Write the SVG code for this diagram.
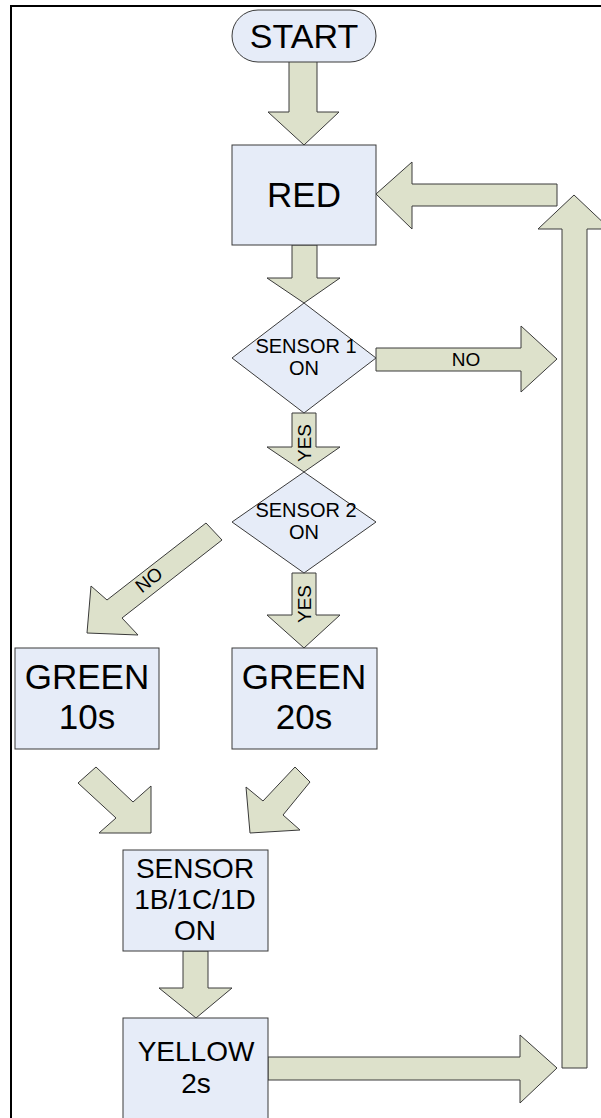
<svg xmlns="http://www.w3.org/2000/svg" width="601" height="1118" viewBox="0 0 601 1118">
<style>
.node{fill:#E6ECF8;stroke:#3a3a3a;stroke-width:1}
.arrow{fill:#DDE1CB;stroke:#3a3a3a;stroke-width:1;stroke-linejoin:miter}
text{font-family:"Liberation Sans",Arial,sans-serif;fill:#000;text-anchor:middle}
.big{font-size:35px}
.mid{font-size:28px}
.sm{font-size:20px}
.lbl{font-size:19px}
</style>
<rect x="0" y="0" width="601" height="1118" fill="#fff"/>
<path d="M11,1118 V6 H601" fill="none" stroke="#000" stroke-width="2"/>
<g id="connectors">
<polygon class="arrow" points="289,61 317,61 317,112 339,112 304,145 268,112 289,112"/>
<polygon class="arrow" points="557,184 557,206 412,206 412,229 376,194 412,162 412,184"/>
<polygon class="arrow" points="292,245 317,245 317,278 340,278 304,303 267,278 292,278"/>
<polygon class="arrow" points="376,348 521,348 521,326 557,359 521,392 521,371 376,371"/>
<text class="lbl" x="466" y="366">NO</text>
<polygon class="arrow" points="292,413 316,413 316,447 340,447 304,472 267,447 292,447"/>
<text class="lbl" transform="translate(311,443) rotate(-90)">YES</text>
<polygon class="arrow" points="292,573 316,573 316,615 340,615 304,648 267,615 292,615"/>
<text class="lbl" transform="translate(311,604) rotate(-90)">YES</text>
<polygon class="arrow" points="206,523 222,540 122,618 138,635 87,633 91,586 107,600"/>
<text class="lbl" transform="translate(153,585) rotate(-38)">NO</text>
<polygon class="arrow" points="96,767 133,802 151,786 151,833 99,833 116,818 78,783"/>
<polygon class="arrow" points="295,767 310,782 283,815 300,830 250,833 246,787 263,801"/>
<polygon class="arrow" points="183,951 208,951 208,988 232,988 196,1018 159,988 183,988"/>
<polygon class="arrow" points="268,1057 520,1057 520,1035 557,1068 520,1103 520,1080 268,1080"/>
<polygon class="arrow" points="562,1068 587,1068 587,229 610,229 574,195 538,229 562,229"/>
</g>
<g id="start">
<rect class="node" x="232" y="10" width="144" height="52" rx="26" ry="26"/>
<text x="304" y="48" font-size="34">START</text>
</g>
<g id="red">
<rect class="node" x="232" y="145" width="144" height="100"/>
<text class="big" x="304" y="207">RED</text>
</g>
<g id="sensor1">
<polygon class="node" points="304,303 376,358 304,413 232,358"/>
<text class="sm" x="306" y="353">SENSOR 1</text>
<text class="sm" x="304" y="375">ON</text>
</g>
<g id="sensor2">
<polygon class="node" points="304,472 376,522 304,573 232,522"/>
<text class="sm" x="306" y="517">SENSOR 2</text>
<text class="sm" x="304" y="539">ON</text>
</g>
<g id="green10">
<rect class="node" x="15" y="648" width="144" height="101"/>
<text class="big" x="87" y="689">GREEN</text>
<text class="big" x="87" y="729">10s</text>
</g>
<g id="green20">
<rect class="node" x="232" y="648" width="145" height="101"/>
<text class="big" x="304" y="689">GREEN</text>
<text class="big" x="304" y="729">20s</text>
</g>
<g id="sensor1bcd">
<rect class="node" x="123" y="850" width="145" height="101"/>
<text class="mid" x="195" y="878">SENSOR</text>
<text class="mid" x="195" y="909">1B/1C/1D</text>
<text class="mid" x="195" y="940">ON</text>
</g>
<g id="yellow">
<rect class="node" x="123" y="1018" width="145" height="110"/>
<text class="mid" x="196" y="1061">YELLOW</text>
<text class="mid" x="196" y="1093">2s</text>
</g>
</svg>
